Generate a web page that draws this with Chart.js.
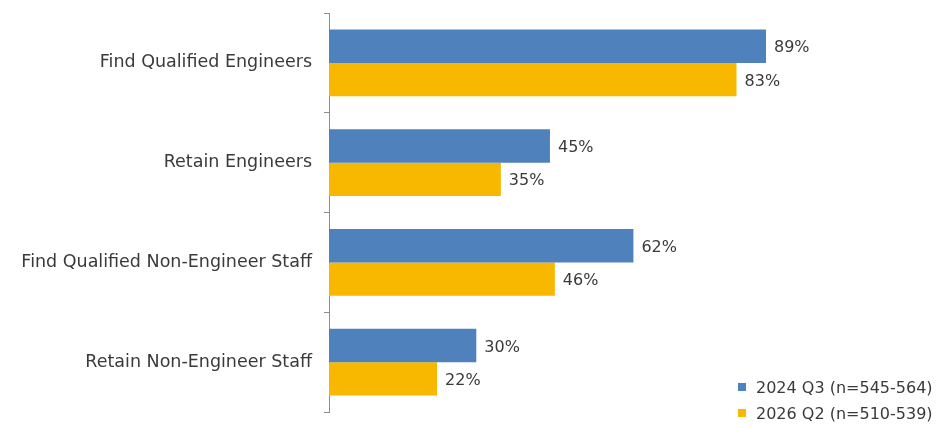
<!DOCTYPE html>
<html>
<head>
<meta charset="utf-8">
<script src="https://cdn.jsdelivr.net/npm/chart.js@4/dist/chart.umd.min.js"></script>
<style>
  html, body { margin: 0; padding: 0; background: #ffffff; }
  #wrap { width: 940px; height: 428px; position: relative; }
</style>
</head>
<body>
<div id="wrap"><canvas id="chart" width="940" height="428"></canvas></div>
<script>
// Workforce challenges: share of respondents, two survey waves
const categories = [
  'Find Qualified Engineers',
  'Retain Engineers',
  'Find Qualified Non-Engineer Staff',
  'Retain Non-Engineer Staff'
];
const seriesNames = ['2024 Q3 (n=545-564)', '2026 Q2 (n=510-539)'];
const values2024Q3 = [89, 45, 62, 30];
const values2026Q2 = [83, 35, 46, 22];

const BLUE = '#4F81BD';
const GOLD = '#F8B800';
const TEXT = '#3a3a3a';
const FONT = "'DejaVu Sans', sans-serif";

// Percentage labels at the end of every bar
const valueLabels = {
  id: 'valueLabels',
  afterDatasetsDraw(chart) {
    const ctx = chart.ctx;
    ctx.save();
    ctx.font = '16px ' + FONT;
    ctx.fillStyle = TEXT;
    ctx.textAlign = 'left';
    ctx.textBaseline = 'middle';
    chart.data.datasets.forEach((ds, i) => {
      chart.getDatasetMeta(i).data.forEach((bar, j) => {
        ctx.fillText(ds.data[j] + '%', bar.x + 8, bar.y + 2);
      });
    });
    ctx.restore();
  }
};

// Legend box in the lower right corner
const cornerLegend = {
  id: 'cornerLegend',
  afterDraw(chart) {
    const ctx = chart.ctx;
    ctx.save();
    ctx.font = '16px ' + FONT;
    ctx.textBaseline = 'middle';
    const x0 = 738, rows = [387, 413];
    chart.data.datasets.forEach((ds, i) => {
      ctx.fillStyle = ds.backgroundColor;
      ctx.fillRect(x0, rows[i] - 4, 8, 8);
      ctx.fillStyle = TEXT;
      ctx.fillText(ds.label, x0 + 18, rows[i] + 2);
    });
    ctx.restore();
  }
};

new Chart(document.getElementById('chart'), {
  type: 'bar',
  data: {
    labels: categories,
    datasets: [
      { label: seriesNames[0], data: values2024Q3, backgroundColor: BLUE },
      { label: seriesNames[1], data: values2026Q2, backgroundColor: GOLD }
    ]
  },
  options: {
    indexAxis: 'y',
    responsive: false,
    animation: false,
    datasets: { bar: { categoryPercentage: 0.67, barPercentage: 1.0 } },
    layout: { padding: { top: 13, bottom: 16, right: 120, left: 0 } },
    plugins: {
      legend: { display: false },
      tooltip: { enabled: false }
    },
    scales: {
      x: { display: false, min: 0, max: 100 },
      y: {
        afterFit(scale) {
          scale.width = 329;
          scale.paddingTop = 0;
          scale.paddingBottom = 0;
        },
        border: { display: true, color: '#8c8c8c', width: 1 },
        grid: { display: true, drawOnChartArea: false, drawTicks: true, tickLength: 5, color: '#8c8c8c', offset: true },
        ticks: { color: TEXT, padding: 12, font: { family: FONT, size: 17.5 } }
      }
    }
  },
  plugins: [valueLabels, cornerLegend]
});
</script>
</body>
</html>
